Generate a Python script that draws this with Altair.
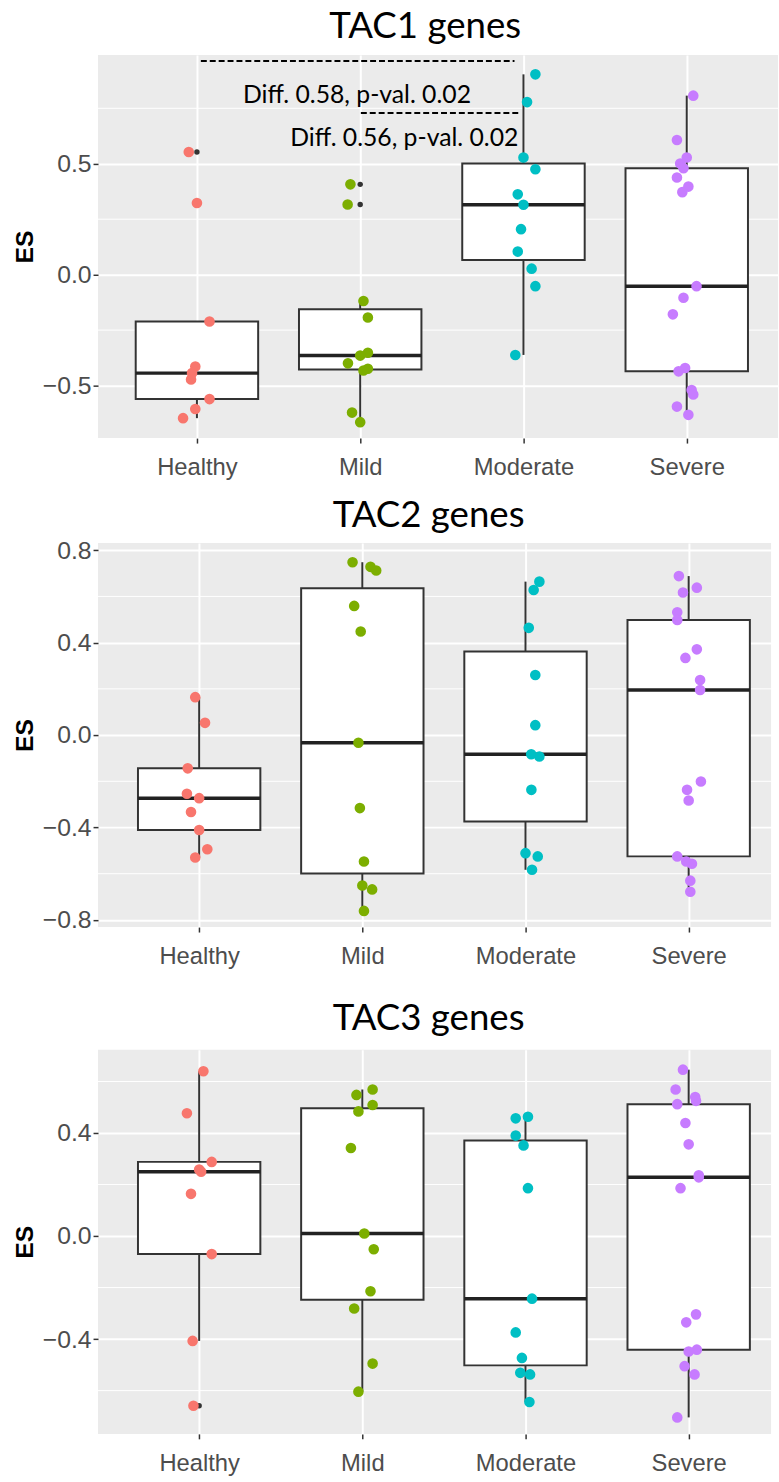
import json
import numpy as np
import pandas as pd
import altair as alt

groups = ["Healthy", "Mild", "Moderate", "Severe"]
colors = ["#F8766D", "#7CAE00", "#00BFC4", "#C77CFF"]

# ---------------- TAC1 genes ----------------
tac1_healthy = [0.553, 0.323, -0.211, -0.414, -0.444, -0.473, -0.561, -0.606, -0.647]
tac1_healthy_jit = [-0.05, 0.0, 0.077, -0.01, -0.03, -0.036, 0.077, -0.01, -0.085]
tac1_mild = [0.407, 0.316, -0.119, -0.193, -0.352, -0.365, -0.40, -0.424, -0.432, -0.622, -0.665]
tac1_mild_jit = [-0.06, -0.077, 0.02, 0.047, 0.047, 0.0, -0.075, 0.047, 0.02, -0.05, 0.0]
tac1_moderate = [0.903, 0.778, 0.528, 0.475, 0.362, 0.315, 0.205, 0.104, 0.027, -0.052, -0.362]
tac1_moderate_jit = [0.073, 0.022, 0.0, 0.073, -0.035, 0.0, -0.015, -0.035, 0.05, 0.073, -0.05]
tac1_severe = [0.807, 0.607, 0.528, 0.501, 0.48, 0.438, 0.397, 0.372, -0.052, -0.104, -0.179,
               -0.421, -0.436, -0.52, -0.54, -0.595, -0.632]
tac1_severe_jit = [0.04, -0.06, 0.0, -0.04, -0.02, -0.06, 0.01, -0.027, 0.06, -0.02, -0.085,
                   -0.01, -0.05, 0.03, 0.04, -0.06, 0.01]

# ---------------- TAC2 genes ----------------
tac2_healthy = [0.164, 0.053, -0.144, -0.254, -0.273, -0.333, -0.411, -0.494, -0.53]
tac2_healthy_jit = [-0.024, 0.036, -0.07, -0.075, 0.0, -0.05, 0.0, 0.05, -0.024]
tac2_mild = [0.748, 0.728, 0.712, 0.559, 0.448, -0.033, -0.316, -0.547, -0.651, -0.668, -0.761]
tac2_mild_jit = [-0.06, 0.05, 0.085, -0.05, -0.01, -0.024, -0.015, 0.01, 0.0, 0.06, 0.01]
tac2_moderate = [0.664, 0.628, 0.464, 0.26, 0.043, -0.083, -0.093, -0.237, -0.511, -0.525, -0.583]
tac2_moderate_jit = [0.085, 0.05, 0.02, 0.06, 0.06, 0.035, 0.085, 0.036, 0.0, 0.075, 0.04]
tac2_severe = [0.688, 0.638, 0.617, 0.531, 0.498, 0.371, 0.334, 0.238, 0.195, -0.201, -0.237,
               -0.283, -0.525, -0.547, -0.557, -0.63, -0.678]
tac2_severe_jit = [-0.06, 0.05, -0.035, -0.07, -0.07, 0.05, -0.02, 0.07, 0.07, 0.075, -0.01,
                   0.0, -0.07, -0.015, 0.02, 0.01, 0.01]

# ---------------- TAC3 genes ----------------
tac3_healthy = [0.64, 0.477, 0.288, 0.258, 0.25, 0.164, -0.07, -0.407, -0.659]
tac3_healthy_jit = [0.026, -0.075, 0.077, 0.0, 0.012, -0.05, 0.077, -0.04, -0.035]
tac3_mild = [0.569, 0.548, 0.509, 0.484, 0.342, 0.01, -0.051, -0.214, -0.281, -0.495, -0.604]
tac3_mild_jit = [0.063, -0.036, 0.063, -0.024, -0.07, 0.012, 0.07, 0.05, -0.05, 0.063, -0.024]
tac3_moderate = [0.463, 0.457, 0.39, 0.352, 0.186, -0.243, -0.374, -0.473, -0.531, -0.537, -0.644]
tac3_moderate_jit = [0.015, -0.06, -0.06, -0.012, 0.015, 0.04, -0.06, -0.022, -0.032, 0.028, 0.024]
tac3_severe = [0.646, 0.569, 0.54, 0.525, 0.512, 0.439, 0.356, 0.236, 0.228, 0.186, -0.304,
               -0.335, -0.441, -0.448, -0.505, -0.537, -0.704]
tac3_severe_jit = [-0.035, -0.08, 0.04, 0.045, -0.07, -0.02, 0.0, 0.062, 0.062, -0.05, 0.045,
                   -0.015, 0.05, 0.0, -0.025, 0.036, -0.07]

# annotations (TAC1 panel)
ann_text = ["Diff. 0.58, p-val. 0.02", "Diff. 0.56, p-val. 0.02"]
ann_text_x = [1.98, 2.27]
ann_text_y = [0.774, 0.580]
ann_seg_x1 = [1.024, 2.004]
ann_seg_x2 = [2.945, 2.97]
ann_seg_y = [0.963, 0.729]

AXIS_FONT = "Liberation Sans"
TITLE_FONT = "Lato"


def points_frame(vals_list, jit_list):
    rows = []
    for gi, (vals, jits) in enumerate(zip(vals_list, jit_list)):
        for v, j in zip(vals, jits):
            rows.append({"group": groups[gi], "x": gi + 1 + j, "v": v})
    return pd.DataFrame(rows)


def box_frames(vals_list):
    boxes, outs = [], []
    for gi, vals in enumerate(vals_list):
        a = np.array(vals)
        q1, med, q3 = np.percentile(a, [25, 50, 75])
        iqr = q3 - q1
        lo_f, hi_f = q1 - 1.5 * iqr, q3 + 1.5 * iqr
        inside = a[(a >= lo_f) & (a <= hi_f)]
        boxes.append({"group": groups[gi], "xc": gi + 1, "xl": gi + 1 - 0.375, "xr": gi + 1 + 0.375,
                      "q1": q1, "med": med, "q3": q3, "lo": inside.min(), "hi": inside.max()})
        for v in a[(a < lo_f) | (a > hi_f)]:
            outs.append({"group": groups[gi], "xc": gi + 1, "v": float(v)})
    return pd.DataFrame(boxes), pd.DataFrame(outs, columns=["group", "xc", "v"])


def panel(title, vals_list, jit_list, xdom, ydom, yticks, minor, width, height, left, bottom,
          title_dx, title_offset, xlabpad, annotate=False):
    xscale = alt.Scale(domain=xdom, nice=False, zero=False)
    yscale = alt.Scale(domain=ydom, nice=False, zero=False)
    xaxis = alt.Axis(values=[1, 2, 3, 4], labelExpr=json.dumps(groups) + "[datum.value - 1]",
                     title=None, grid=True, gridColor="white", gridWidth=2, domain=False,
                     ticks=True, tickSize=5, tickColor="#333333", tickWidth=1.5,
                     labelPadding=xlabpad, labelFont=AXIS_FONT, labelFontSize=24,
                     labelColor="#4D4D4D")
    yaxis = alt.Axis(values=yticks, format=".1f", title="ES", grid=True, gridColor="white",
                     gridWidth=2, domain=False, ticks=True, tickSize=5, tickColor="#333333",
                     tickWidth=1.5, labelPadding=2, labelFont=AXIS_FONT, labelFontSize=25,
                     labelColor="#4D4D4D", titleFont=AXIS_FONT, titleFontSize=25,
                     titleFontWeight="bold", titleColor="black", titlePadding=5)

    def X(f):
        return alt.X(f, type="quantitative", scale=xscale, axis=xaxis)

    def Y(f):
        return alt.Y(f, type="quantitative", scale=yscale, axis=yaxis)

    pts = points_frame(vals_list, jit_list)
    boxes, outs = box_frames(vals_list)

    minor_layer = alt.Chart(pd.DataFrame({"m": minor})).mark_rule(
        color="white", strokeWidth=1).encode(y=Y("m"))
    whisk_up = alt.Chart(boxes).mark_rule(color="#333333", strokeWidth=2).encode(
        x=X("xc"), y=Y("q3"), y2="hi")
    whisk_dn = alt.Chart(boxes).mark_rule(color="#333333", strokeWidth=2).encode(
        x=X("xc"), y=Y("q1"), y2="lo")
    box = alt.Chart(boxes).mark_rect(fill="white", stroke="#333333", strokeWidth=2).encode(
        x=X("xl"), x2="xr", y=Y("q1"), y2="q3")
    med = alt.Chart(boxes).mark_rule(color="#222222", strokeWidth=3.5).encode(
        x=X("xl"), x2="xr", y=Y("med"))
    out = alt.Chart(outs).mark_circle(size=30, opacity=1, color="#333333").encode(
        x=X("xc"), y=Y("v"))
    dots = alt.Chart(pts).mark_circle(size=115, opacity=1).encode(
        x=X("x"), y=Y("v"),
        color=alt.Color("group:N", scale=alt.Scale(domain=groups, range=colors), legend=None))
    spacer = alt.Chart(pd.DataFrame({"k": [0]})).mark_rule(opacity=0, strokeOpacity=0).encode(
        x=alt.value(-left), y=alt.value(0), y2=alt.value(height + bottom))

    layers = [minor_layer, whisk_up, whisk_dn, box, med, out, dots]
    if annotate:
        seg = pd.DataFrame({"x1": ann_seg_x1, "x2": ann_seg_x2, "y": ann_seg_y})
        txt = pd.DataFrame({"x": ann_text_x, "y": ann_text_y, "t": ann_text})
        layers.append(alt.Chart(seg).mark_rule(color="black", strokeWidth=2, strokeDash=[6, 3]).encode(
            x=X("x1"), x2="x2", y=Y("y")))
        layers.append(alt.Chart(txt).mark_text(font=TITLE_FONT, fontSize=25, color="black",
                                               align="center", baseline="alphabetic").encode(
            x=X("x"), y=Y("y"), text="t:N"))
    layers.append(spacer)

    return alt.layer(*layers).properties(
        width=width, height=height,
        title=alt.TitleParams(title, font=TITLE_FONT, fontSize=37, fontWeight="normal",
                              color="black", anchor="middle", frame="group", dx=title_dx,
                              offset=title_offset))


p1 = panel("TAC1 genes", [tac1_healthy, tac1_mild, tac1_moderate, tac1_severe],
           [tac1_healthy_jit, tac1_mild_jit, tac1_moderate_jit, tac1_severe_jit],
           xdom=[0.394, 4.559], ydom=[-0.737, 0.99], yticks=[-0.5, 0.0, 0.5],
           minor=[-0.25, 0.25, 0.75], width=687, height=387, left=92, bottom=60,
           title_dx=-13, title_offset=9, xlabpad=13, annotate=True)
p2 = panel("TAC2 genes", [tac2_healthy, tac2_mild, tac2_moderate, tac2_severe],
           [tac2_healthy_jit, tac2_mild_jit, tac2_moderate_jit, tac2_severe_jit],
           xdom=[0.38, 4.505], ydom=[-0.831, 0.831], yticks=[-0.8, -0.4, 0.0, 0.4, 0.8],
           minor=[-0.6, -0.2, 0.2, 0.6], width=680, height=388, left=99, bottom=74,
           title_dx=-6, title_offset=3, xlabpad=13)
p3 = panel("TAC3 genes", [tac3_healthy, tac3_mild, tac3_moderate, tac3_severe],
           [tac3_healthy_jit, tac3_mild_jit, tac3_moderate_jit, tac3_severe_jit],
           xdom=[0.38, 4.505], ydom=[-0.768, 0.723], yticks=[-0.4, 0.0, 0.4],
           minor=[-0.6, -0.2, 0.2, 0.6], width=680, height=388, left=99, bottom=42,
           title_dx=-6, title_offset=12, xlabpad=13)

chart = alt.vconcat(p1, p2, p3, spacing=0).properties(
    padding={"left": 0, "right": 0, "top": 1, "bottom": 0},
    background="white",
).configure_view(fill="#EBEBEB", stroke=None)

chart.save("out.html", embed_options={"renderer": "svg", "actions": False})
